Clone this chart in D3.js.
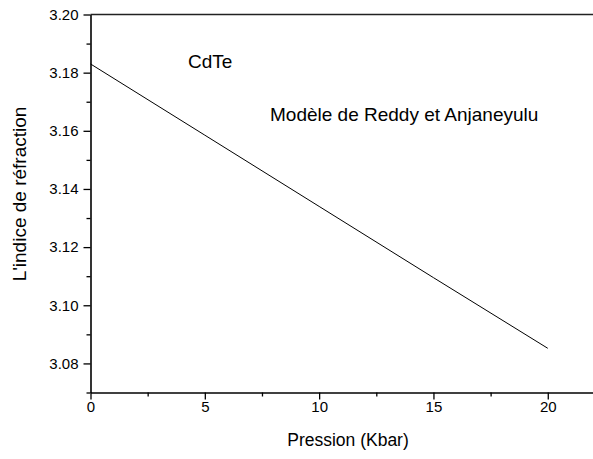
<!DOCTYPE html>
<html>
<head>
<meta charset="utf-8">
<script src="https://cdn.jsdelivr.net/npm/d3@7"></script>
<style>
  html, body { margin: 0; padding: 0; background: #fff; }
  svg { display: block; font-family: Arial, "Liberation Sans", sans-serif; }
</style>
</head>
<body>
<svg id="chart" width="593" height="459"></svg>
<script>
// Refractive index of CdTe vs pressure (Reddy & Anjaneyulu model)
const pressure = [0, 5, 10, 15, 20];
const refractiveIndex = [3.183, 3.1585, 3.134, 3.1095, 3.0852];
const xTicks = [0, 5, 10, 15, 20];
const yTicks = [3.08, 3.10, 3.12, 3.14, 3.16, 3.18, 3.20];
const xMinorTicks = [2.5, 7.5, 12.5, 17.5];
const yMinorTicks = [3.07, 3.09, 3.11, 3.13, 3.15, 3.17, 3.19];

const svg = d3.select("#chart");
const plotLeft = 90.5, plotRight = 593.5, plotTop = 14.5, plotBottom = 392.5;

const x = d3.scaleLinear().domain([0, 22]).range([plotLeft, plotRight]);
const y = d3.scaleLinear().domain([3.07, 3.20]).range([plotBottom, plotTop]);

// minor ticks
svg.append("g").attr("transform", `translate(0,${plotBottom})`)
  .call(d3.axisBottom(x).tickValues(xMinorTicks).tickSize(4).tickFormat(""))
  .call(g => g.select(".domain").remove())
  .selectAll("line").attr("stroke", "#000").attr("stroke-width", 1.3);
svg.append("g").attr("transform", `translate(${plotLeft},0)`)
  .call(d3.axisLeft(y).tickValues(yMinorTicks).tickSize(4).tickFormat(""))
  .call(g => g.select(".domain").remove())
  .selectAll("line").attr("stroke", "#000").attr("stroke-width", 1.3);

// major axes
const xAxis = svg.append("g").attr("transform", `translate(0,${plotBottom})`)
  .call(d3.axisBottom(x).tickValues(xTicks).tickSize(7).tickPadding(2).tickSizeOuter(0).tickFormat(d3.format("d")));
const yAxis = svg.append("g").attr("transform", `translate(${plotLeft},0)`)
  .call(d3.axisLeft(y).tickValues(yTicks).tickSize(7).tickPadding(5).tickSizeOuter(0).tickFormat(d3.format(".2f")));
[xAxis, yAxis].forEach(g => {
  g.select(".domain").attr("stroke", "#000").attr("stroke-width", 1.6);
  g.selectAll(".tick line").attr("stroke", "#000").attr("stroke-width", 1.3);
  g.selectAll(".tick text").attr("fill", "#000").style("font-size", "15px")
    .style("font-family", "Arial, 'Liberation Sans', sans-serif");
});

// top frame line
svg.append("line").attr("x1", plotLeft).attr("x2", plotRight).attr("y1", plotTop).attr("y2", plotTop)
  .attr("stroke", "#222").attr("stroke-width", 1.6);

// data line
svg.append("path")
  .datum(pressure.map((p, i) => [p, refractiveIndex[i]]))
  .attr("fill", "none").attr("stroke", "#000").attr("stroke-width", 1)
  .attr("d", d3.line().x(d => x(d[0])).y(d => y(d[1])));

// annotations
svg.append("text").attr("x", 188).attr("y", 68).style("font-size", "19px").text("CdTe");
svg.append("text").attr("x", 270).attr("y", 121).style("font-size", "19px").text("Modèle de Reddy et Anjaneyulu");

// axis titles
svg.append("text").attr("x", 348).attr("y", 446).attr("text-anchor", "middle")
  .style("font-size", "17.5px").text("Pression (Kbar)");
svg.append("text").attr("transform", `translate(26,194) rotate(-90)`)
  .attr("text-anchor", "middle").style("font-size", "19px").text("L'indice de réfraction");
</script>
</body>
</html>
